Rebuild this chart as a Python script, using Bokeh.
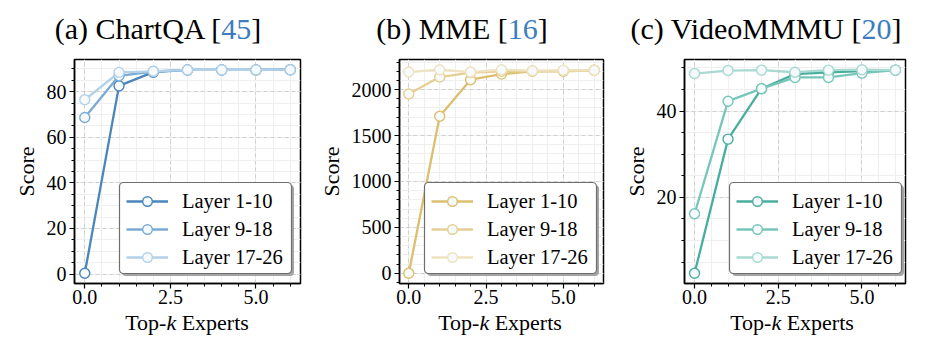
from bokeh.plotting import figure
from bokeh.layouts import row, column
from bokeh.models import Range1d, FixedTicker, PrintfTickFormatter, BoxAnnotation, Div
from bokeh.embed import file_html
from bokeh.resources import INLINE

# ---------------- data ----------------
k_values = [0, 1, 2, 3, 4, 5, 6]
series_names = ["Layer 1-10", "Layer 9-18", "Layer 17-26"]

chartqa_l1_10 = [0.3, 82.6, 88.6, 89.6, 89.6, 89.6, 89.7]
chartqa_l9_18 = [68.7, 87.0, 88.9, 89.6, 89.6, 89.6, 89.7]
chartqa_l17_26 = [76.5, 88.5, 89.0, 89.6, 89.6, 89.6, 89.7]

mme_l1_10 = [0, 1710, 2108, 2169, 2200, 2200, 2210]
mme_l9_18 = [1952, 2137, 2185, 2200, 2200, 2205, 2210]
mme_l17_26 = [2191, 2217, 2191, 2217, 2206, 2210, 2210]

videommmu_l1_10 = [2.4, 33.5, 45.2, 48.6, 49.0, 49.3, 49.5]
videommmu_l9_18 = [16.2, 42.3, 45.2, 47.8, 47.8, 48.8, 49.5]
videommmu_l17_26 = [48.7, 49.4, 49.5, 49.0, 49.5, 49.6, 49.5]

x_ticks = [0, 2.5, 5.0]
x_minor = [0, 0.5, 1, 1.5, 2, 2.5, 3, 3.5, 4, 4.5, 5, 5.5, 6]
chartqa_yticks = [0, 20, 40, 60, 80]
chartqa_yminor = [0, 5, 10, 15, 20, 25, 30, 35, 40, 45, 50, 55, 60, 65, 70, 75, 80, 85, 90]
mme_yticks = [0, 500, 1000, 1500, 2000]
mme_yminor = list(range(-100, 2400, 100))
videommmu_yticks = [20, 40]
videommmu_yminor = [5, 10, 15, 20, 25, 30, 35, 40, 45, 50]

# ---------------- style ----------------
FONT = "Liberation Serif"
TITLE_H = 50
FIG_H = 262
FRAME_TOP = 9
FRAME_BOTTOM = 29
XLAB_H = 341 - TITLE_H - FIG_H
HAS_RADIUS = "border_radius" in BoxAnnotation.properties()


def screen_box(l, r, b, t, **kw):
    box = BoxAnnotation(left=l, right=r, bottom=b, top=t,
                        left_units="screen", right_units="screen",
                        top_units="screen", bottom_units="screen", **kw)
    if HAS_RADIUS:
        box.border_radius = 4
    return box


def make_panel(prefix, ref, suffix, series, colors, yticks, yminor, width, left, right,
               title_cx):
    fw = width - left - right
    ys = [v for s in series for v in s]
    lo, hi = min(ys), max(ys)
    pad = 0.05 * (hi - lo)
    p = figure(width=width, height=FIG_H, output_backend="svg", toolbar_location=None,
               x_range=Range1d(-0.3, 6.3), y_range=Range1d(lo - pad, hi + pad),
               min_border_left=left, min_border_right=right, min_border_top=FRAME_TOP,
               min_border_bottom=FRAME_BOTTOM, margin=0)
    p.background_fill_color = "white"
    p.border_fill_color = "white"
    p.outline_line_color = "black"
    p.outline_line_width = 1.5

    p.xaxis.ticker = FixedTicker(ticks=x_ticks, minor_ticks=x_minor)
    p.yaxis.ticker = FixedTicker(ticks=yticks, minor_ticks=yminor)
    p.xaxis.formatter = PrintfTickFormatter(format="%.1f")
    for ax in (p.xaxis[0], p.yaxis[0]):
        ax.axis_line_color = "black"
        ax.axis_line_width = 1.5
        ax.major_tick_line_color = "black"
        ax.major_tick_line_width = 1.2
        ax.minor_tick_line_color = "black"
        ax.minor_tick_line_width = 1.0
        ax.major_tick_out = 5
        ax.major_tick_in = 0
        ax.minor_tick_out = 3
        ax.minor_tick_in = 0
        ax.major_label_text_font = FONT
        ax.major_label_text_font_size = "20px"
        ax.major_label_text_color = "black"
    p.xaxis.major_label_standoff = 1
    p.yaxis.major_label_standoff = 3
    p.yaxis.axis_label = "Score"
    p.yaxis.axis_label_text_font = FONT
    p.yaxis.axis_label_text_font_size = "22px"
    p.yaxis.axis_label_text_font_style = "normal"
    p.yaxis.axis_label_text_color = "black"
    p.yaxis.axis_label_standoff = 5

    for g in (p.xgrid[0], p.ygrid[0]):
        g.grid_line_color = "#cfcfcf"
        g.grid_line_dash = "4 3"
        g.grid_line_width = 1
        g.minor_grid_line_color = "#efefef"
        g.minor_grid_line_width = 1
    p.xgrid.ticker = p.xaxis[0].ticker
    p.ygrid.ticker = p.yaxis[0].ticker

    # legend frame with shadow, drawn as screen-space boxes (added before the legend)
    br = fw - 9
    bl = br - 172
    bb = 10
    bt = 101
    off = 2.5
    p.add_layout(screen_box(bl + off, br + off, bb - off, bt - off,
                            fill_color="#a4a4a4", fill_alpha=1.0, line_color=None))
    p.add_layout(screen_box(bl, br, bb, bt, fill_color="white", fill_alpha=1.0,
                            line_color="#6e6e6e", line_width=1.2, line_alpha=1.0))

    for name, vals, col in zip(series_names, series, colors):
        p.line(k_values, vals, line_color=col, line_width=2.3, legend_label=name)
        p.scatter(k_values, vals, marker="circle", size=10, line_color=col,
                  line_width=1.4, fill_color="#f6fafc", legend_label=name)

    lg = p.legend[0]
    lg.location = (bl + 7, bb + 4)
    lg.margin = 0
    lg.padding = 7
    lg.spacing = 4
    lg.glyph_width = 42
    lg.glyph_height = 24
    lg.label_height = 24
    lg.label_width = 98
    lg.label_standoff = 14
    lg.label_text_font = FONT
    lg.label_text_font_size = "20.5px"
    lg.label_text_color = "black"
    lg.border_line_color = None
    lg.background_fill_alpha = 0.0

    title_html = (
        f"<div style='margin-left:{title_cx - 150}px; width:300px; text-align:center; "
        f"white-space:nowrap; padding-top:14px; line-height:30px; font-family:\"{FONT}\"; "
        f"font-size:30px; color:black;'>{prefix}<span style='color:#3b7dbf'>{ref}</span>{suffix}</div>"
    )
    title_div = Div(text=title_html, width=width, height=TITLE_H, margin=0)

    fc = left + fw / 2
    xlab_html = (
        f"<div style='margin-left:{fc - 100}px; width:200px; text-align:center; "
        f"white-space:nowrap; padding-top:0px; line-height:22px; font-family:\"{FONT}\"; "
        f"font-size:22px; color:black;'>Top-<i>k</i> Experts</div>"
    )
    xlab_div = Div(text=xlab_html, width=width, height=XLAB_H, margin=0)
    return column(title_div, p, xlab_div, spacing=0, margin=0)


blues = ["#4a86bb", "#7aabd4", "#b3d1e8"]
golds = ["#dcbf6e", "#e6cf93", "#eee2bf"]
teals = ["#4aae9e", "#77c6ba", "#a8dad2"]

pa = make_panel("(a) ChartQA [", "45", "]", [chartqa_l1_10, chartqa_l9_18, chartqa_l17_26],
                blues, chartqa_yticks, chartqa_yminor, 315, 74, 15, 158)
pb = make_panel("(b) MME [", "16", "]", [mme_l1_10, mme_l9_18, mme_l17_26],
                golds, mme_yticks, mme_yminor, 305, 82, 17, 147)
pc = make_panel("(c) VideoMMMU [", "20", "]", [videommmu_l1_10, videommmu_l9_18, videommmu_l17_26],
                teals, videommmu_yticks, videommmu_yminor, 313, 59, 28, 146)

layout = row(pa, pb, pc, spacing=0, margin=0)
open("out.html", "w").write(file_html(layout, INLINE))
